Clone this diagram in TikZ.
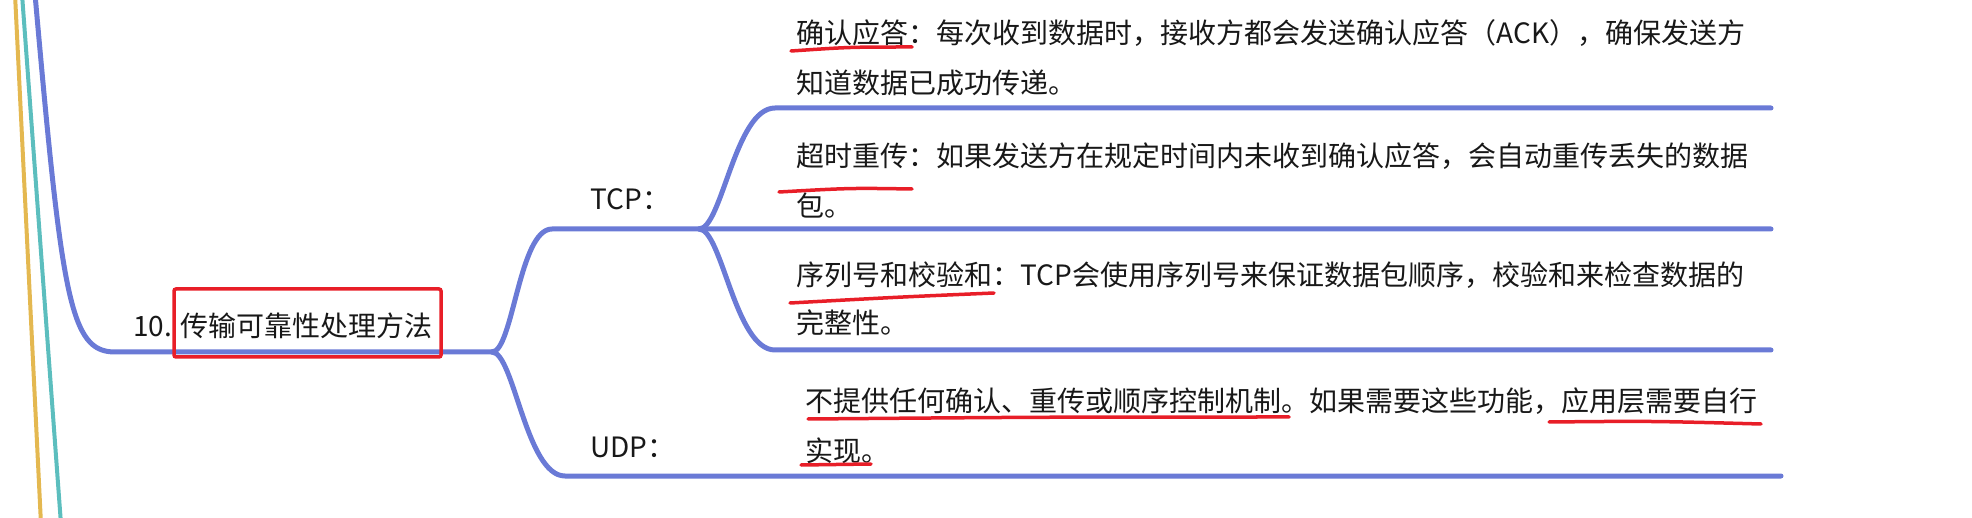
\documentclass[tikz,border=0pt]{standalone}
\usepackage{fontspec}
\setmainfont{Noto Sans CJK SC}
\definecolor{branchblue}{RGB}{106,122,214}
\definecolor{markred}{RGB}{232,30,40}
\definecolor{lineyellow}{RGB}{228,184,80}
\definecolor{lineteal}{RGB}{92,190,190}
\definecolor{ink}{RGB}{24,24,24}
\begin{document}
\begin{tikzpicture}[x=0.5pt,y=-0.5pt,
  txt/.style={anchor=base west, inner sep=0pt, text=ink, font=\fontsize{14pt}{17pt}\selectfont},
  branch/.style={draw=branchblue, line width=2.5pt, line cap=round, line join=round},
  sidebranch/.style={line width=2pt, line cap=round},
  redmark/.style={draw=markred, line width=1.75pt, line cap=round},
]
\useasboundingbox (0,0) rectangle (1972,518);

% side branches of other topics
\coordinate (y0) at (15,-6);  \coordinate (y1) at (41,524);
\coordinate (t0) at (22,-6);  \coordinate (t1) at (61,524);
\draw[sidebranch, draw=lineyellow] (y0) -- (y1);
\draw[sidebranch, draw=lineteal] (t0) -- (t1);

% junction coordinates
\coordinate (root) at (35,-6);
\coordinate (J0) at (492,352);
\coordinate (J1) at (699,229);
\coordinate (e1) at (1771,108);
\coordinate (e2) at (1771,229);
\coordinate (e3) at (1771,350);
\coordinate (e4) at (1781,476);

% texts
\node[txt] (num) at (133,336) {10.};
\node[txt] (main) at (180,336) {传输可靠性处理方法};
\node[txt] (tcp) at (590,210) {TCP：};
\node[txt] (udp) at (590,458) {UDP：};
\node[txt] (a1) at (796,43.5) {确认应答：每次收到数据时，接收方都会发送确认应答（ACK），确保发送方};
\node[txt] (a2) at (796,93.5) {知道数据已成功传递。};
\node[txt] (b1) at (796,166.5) {超时重传：如果发送方在规定时间内未收到确认应答，会自动重传丢失的数据};
\node[txt] (b2) at (796,216.5) {包。};
\node[txt] (c1) at (796,285.5) {序列号和校验和：TCP会使用序列号来保证数据包顺序，校验和来检查数据的};
\node[txt] (c2) at (796,334) {完整性。};
\node[txt] (d1) at (805,411.5) {不提供任何确认、重传或顺序控制机制。如果需要这些功能，应用层需要自行};
\node[txt] (d2) at (805,461.5) {实现。};

% mind-map branches
\draw[branch] (root) .. controls (62,300) and (70,352) .. (115,352) -- (J0);
\draw[branch] (J0) .. controls (513,352) and (519,229) .. (552,229) -- (J1) -- (e2);
\draw[branch] (J0) .. controls (514,352) and (526,476) .. (565,476) -- (e4);
\draw[branch] (J1) .. controls (722,229) and (735,108) .. (775,108) -- (e1);
\draw[branch] (J1) .. controls (722,229) and (735,350) .. (775,350) -- (e3);

% red annotations
\draw[redmark, rounded corners=1pt] (174,289) rectangle (441,357);
\draw[redmark] (791,51) .. controls (850,47) .. (912,47);
\draw[redmark] (779,192) .. controls (850,188) .. (912,189);
\draw[redmark] (790,303) .. controls (900,297) .. (994,293);
\draw[redmark] (808,419) .. controls (1050,417) .. (1289,417);
\draw[redmark] (1549,422) .. controls (1650,421) .. (1761,424);
\draw[redmark] (801,465) -- (871,464);
\end{tikzpicture}
\end{document}
